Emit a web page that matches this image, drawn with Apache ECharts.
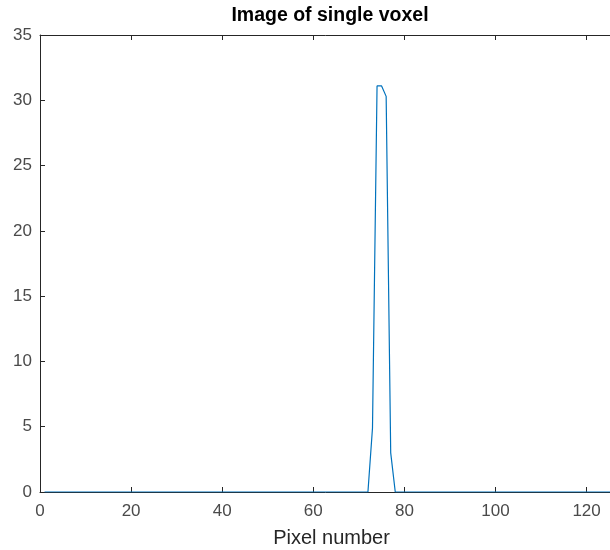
<!DOCTYPE html>
<html>
<head>
<meta charset="utf-8">
<script src="https://cdn.jsdelivr.net/npm/echarts@6/dist/echarts.min.js"></script>
<style>
html,body{margin:0;padding:0;background:#fff;}
#c{width:610px;height:550px;}
</style>
</head>
<body>
<div id="c"></div>
<script>
var titleText = "Image of single voxel";
var xName = "Pixel number";
var pixelNumbers = [
  1,2,3,4,5,6,7,8,9,10,
  11,12,13,14,15,16,17,18,19,20,
  21,22,23,24,25,26,27,28,29,30,
  31,32,33,34,35,36,37,38,39,40,
  41,42,43,44,45,46,47,48,49,50,
  51,52,53,54,55,56,57,58,59,60,
  61,62,63,64,65,66,67,68,69,70,
  71,72,73,74,75,76,77,78,79,80,
  81,82,83,84,85,86,87,88,89,90,
  91,92,93,94,95,96,97,98,99,100,
  101,102,103,104,105,106,107,108,109,110,
  111,112,113,114,115,116,117,118,119,120,
  121,122,123,124,125,126,127,128
];
var intensity = [
  0,0,0,0,0,0,0,0,0,0,
  0,0,0,0,0,0,0,0,0,0,
  0,0,0,0,0,0,0,0,0,0,
  0,0,0,0,0,0,0,0,0,0,
  0,0,0,0,0,0,0,0,0,0,
  0,0,0,0,0,0,0,0,0,0,
  0,0,0,0,0,0,0,0,0,0,
  0,0,4.9,31.1,31.1,30.3,3,0,0,0,
  0,0,0,0,0,0,0,0,0,0,
  0,0,0,0,0,0,0,0,0,0,
  0,0,0,0,0,0,0,0,0,0,
  0,0,0,0,0,0,0,0,0,0,
  0,0,0,0,0,0,0,0
];
var xMin = 0, xMax = 128, xStep = 20;
var yMin = 0, yMax = 35, yStep = 5;

var pairs = pixelNumbers.map(function(x, i){ return [x, intensity[i]]; });
var axisColor = '#262626';
var labelColor = '#4a4a4a';
var ff = 'Liberation Sans, Arial, Helvetica, sans-serif';
var chart = echarts.init(document.getElementById('c'), null, {renderer:'canvas'});
chart.setOption({
  backgroundColor: '#ffffff',
  animation: false,
  title: {
    text: titleText,
    left: 330, textAlign: 'center', top: 6, padding: 0,
    textStyle: {fontFamily: ff, fontSize: 19.5, fontWeight: 'bold', color: '#000'}
  },
  grid: {left: 40, top: 35, width: 583, height: 457, containLabel: false, outerBoundsMode: 'none'},
  xAxis: [{
    type: 'value', min: xMin, max: xMax, interval: xStep,
    name: xName, nameLocation: 'middle', nameGap: 36,
    nameTextStyle: {fontFamily: ff, fontSize: 20, color: '#262626'},
    axisLine: {show: true, lineStyle: {color: axisColor, width: 1}},
    axisTick: {show: true, inside: true, length: 5, lineStyle: {color: axisColor}},
    axisLabel: {margin: 11, showMaxLabel: false, fontFamily: ff, fontSize: 17, color: labelColor},
    splitLine: {show: false}
  }, {
    type: 'value', position: 'top', min: xMin, max: xMax, interval: xStep,
    axisLine: {show: true, lineStyle: {color: axisColor, width: 1}},
    axisTick: {show: true, inside: true, length: 5, lineStyle: {color: axisColor}},
    axisLabel: {show: false},
    splitLine: {show: false}
  }],
  yAxis: [{
    type: 'value', min: yMin, max: yMax, interval: yStep,
    axisLine: {show: true, lineStyle: {color: axisColor, width: 1}},
    axisTick: {show: true, inside: true, length: 5, lineStyle: {color: axisColor}},
    axisLabel: {margin: 8, fontFamily: ff, fontSize: 17, color: labelColor},
    splitLine: {show: false}
  }],
  series: [{
    type: 'line', data: pairs, xAxisIndex: 0, yAxisIndex: 0,
    showSymbol: false, symbol: 'none',
    lineStyle: {color: '#0072BD', width: 1.2},
    z: 5
  }]
});
</script>
</body>
</html>
